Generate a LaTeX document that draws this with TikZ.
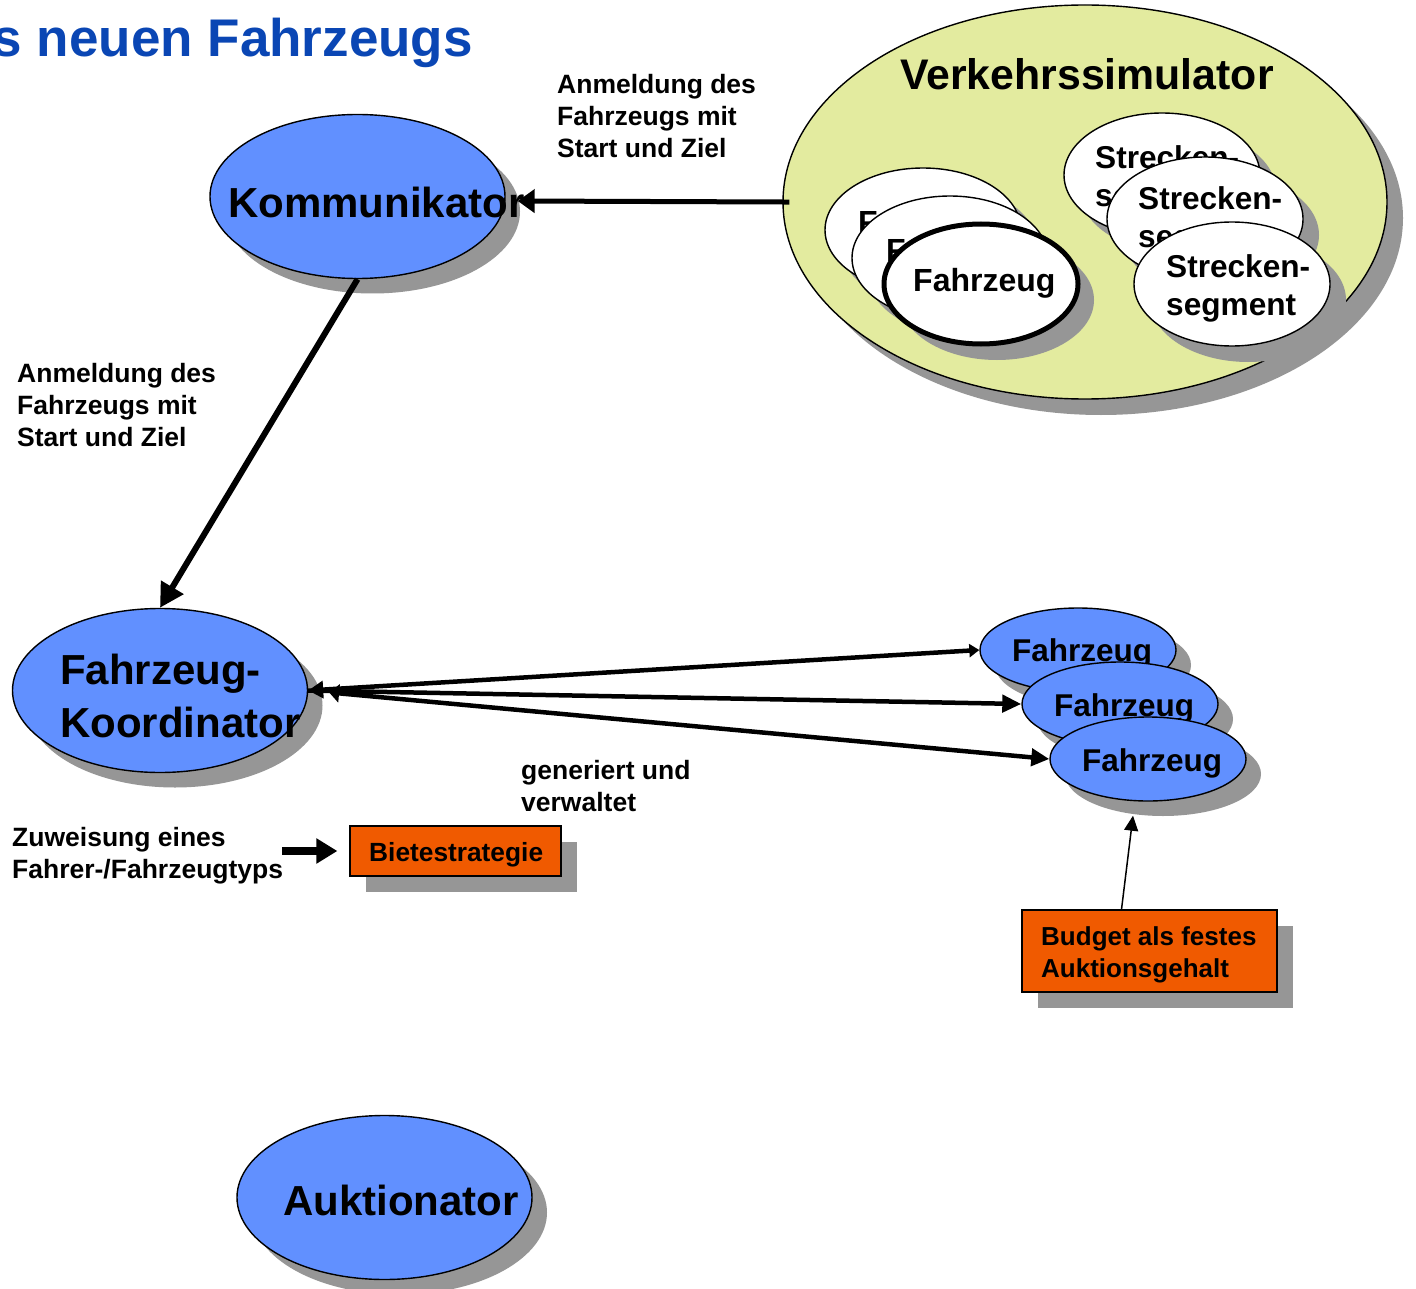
\documentclass[tikz,border=0pt]{standalone}
\usepackage{fontspec}
\setmainfont{Liberation Sans}
\usetikzlibrary{shapes.geometric,arrows.meta,shadows}
\definecolor{nodeblue}{HTML}{6190FF}
\definecolor{simyellow}{HTML}{E3EB9F}
\definecolor{boxorange}{HTML}{F05A00}
\definecolor{shgray}{HTML}{969696}
\definecolor{titleblue}{HTML}{0A46B4}
\begin{document}
\begin{tikzpicture}[x=1pt,y=-1pt,
  shadowed/.style={drop shadow={shadow xshift=#1,shadow yshift=-#1,fill=shgray,opacity=1}},
  shadowed/.default=15pt,
  ell/.style={ellipse,draw=black,line width=1.4pt,inner sep=0pt},
  agent/.style={ell,fill=nodeblue,minimum width=295pt,minimum height=164pt,shadowed},
  car/.style={ell,fill=nodeblue,minimum width=196pt,minimum height=84pt,shadowed},
  member/.style={ell,fill=white,minimum width=196pt,minimum height=124pt,shadowed=16pt},
  orangebox/.style={draw=black,line width=1.2pt,fill=boxorange,inner sep=0pt,shadowed=16pt},
  txt/.style={inner sep=0pt,anchor=base west,font=\bfseries\fontsize{#1}{#1}\selectfont},
  bigarrow/.style={line width=5pt,-{Triangle[length=17pt,width=23pt]}},
  linkline/.style={line width=4.5pt},
]
\useasboundingbox[fill=white] (0,0) rectangle (1416,1289);

% heading
\node[txt=53,text=titleblue,anchor=base east] (title) at (473,57) {s neuen Fahrzeugs};

% traffic simulator with its vehicles and segments
\node[ell,fill=simyellow,minimum width=604pt,minimum height=394pt,shadowed=16pt] (vs) at (1085,202) {};
\node[txt=42.8] (vsT) at (900,90) {Verkehrssimulator};

\node[member] (sv1) at (923,230) {};
\node[txt=32] (sv1T) at (858,234) {Fahrzeug};
\node[member] (sv2) at (950,258) {};
\node[txt=32] (sv2T) at (886,262) {Fahrzeug};
\node[member,line width=5pt,minimum width=194pt,minimum height=120pt] (sv3) at (981,284) {};
\node[txt=32] (sv3T) at (913,292) {Fahrzeug};

\node[member] (sg1) at (1162,175) {};
\node[txt=31.6] (sg1a) at (1095,169) {Strecken-};
\node[txt=31.6] (sg1b) at (1095,207) {segment};
\node[member] (sg2) at (1205,219) {};
\node[txt=31.6] (sg2a) at (1138,210) {Strecken-};
\node[txt=31.6] (sg2b) at (1138,248) {segment};
\node[member] (sg3) at (1232,284) {};
\node[txt=31.6] (sg3a) at (1166,278) {Strecken-};
\node[txt=31.6] (sg3b) at (1166,316) {segment};

% agents
\node[agent] (komm) at (357.5,196.5) {};
\node[txt=42] (kommT) at (228,218) {Kommunikator};
\node[agent] (koord) at (160,690.5) {};
\node[txt=42] (koordA) at (60,684) {Fahrzeug-};
\node[txt=42] (koordB) at (60,737) {Koordinator};
\node[agent] (auk) at (384.5,1197.5) {};
\node[txt=42] (aukT) at (283,1215) {Auktionator};

% generated vehicles
\node[car] (fz1) at (1078,650) {};
\node[txt=31.5] (fz1T) at (1012,661) {Fahrzeug};
\node[car] (fz2) at (1120,704) {};
\node[txt=31.5] (fz2T) at (1054,716) {Fahrzeug};
\node[car] (fz3) at (1148,759) {};
\node[txt=31.5] (fz3T) at (1082,771) {Fahrzeug};

% boxes
\node[orangebox,minimum width=211pt,minimum height=50pt] (bs) at (455.5,851) {};
\node[txt=26.3] (bsT) at (369,861) {Bietestrategie};
\node[orangebox,minimum width=255pt,minimum height=82pt] (bud) at (1149.5,951) {};
\node[txt=26] (budA) at (1041,945) {Budget als festes};
\node[txt=26] (budB) at (1041,977) {Auktionsgehalt};

% labels
\node[txt=26.5] (l1a) at (557,94) {Anmeldung des};
\node[txt=26.5] (l1b) at (557,126) {Fahrzeugs mit};
\node[txt=26.5] (l1c) at (557,158) {Start und Ziel};
\node[txt=26.5] (l2a) at (17,382) {Anmeldung des};
\node[txt=26.5] (l2b) at (17,414) {Fahrzeugs mit};
\node[txt=26.5] (l2c) at (17,446) {Start und Ziel};
\node[txt=26.5] (l3a) at (521,779) {generiert und};
\node[txt=26.5] (l3b) at (521,811) {verwaltet};
\node[txt=26.5] (l4a) at (12,846) {Zuweisung eines};
\node[txt=26.5] (l4b) at (12,878) {Fahrer-/Fahrzeugtyps};

% connectors
\draw[bigarrow,shorten <=-7pt] (vs.west) -- ([xshift=12pt,yshift=-4.5pt]komm.east);
\draw[line width=6pt,-{Triangle[length=24pt,width=25pt]}] (komm.south) -- (koord.north);
\draw[linkline,{Triangle[length=15pt,width=17pt]}-{Triangle[length=10pt,width=13pt]}] (koord.east) -- (fz1.west);
\draw[linkline,-{Triangle[length=19pt,width=17pt]}] (koord.east) -- (fz2.west);
\draw[linkline,{Triangle[length=10pt,width=18pt]}-{Triangle[length=18pt,width=17pt]},shorten <=21pt] (koord.east) -- (fz3.west);
\draw[line width=8pt,-{Triangle[length=21pt,width=24pt]}] ([xshift=-67pt]bs.west) -- ([xshift=-12pt]bs.west);
\draw[line width=1.5pt,-{Triangle[length=15pt,width=14pt]}] ([xshift=-28pt]bud.north) -- ([xshift=-15pt,yshift=-14pt]fz3.south);
\end{tikzpicture}
\end{document}
